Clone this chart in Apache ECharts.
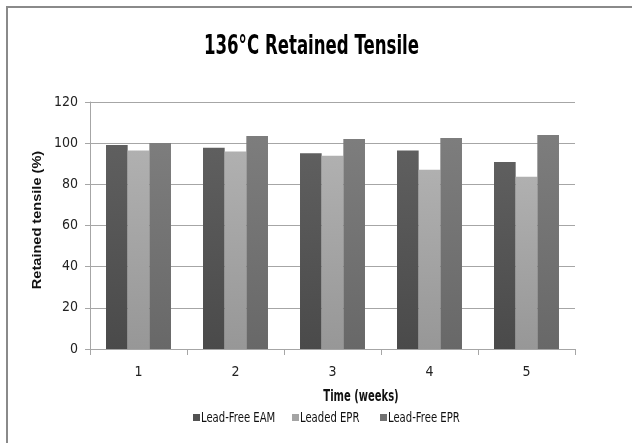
<!DOCTYPE html>
<html><head><meta charset="utf-8">
<script src="https://cdn.jsdelivr.net/npm/echarts@6/dist/echarts.min.js"></script>
<style>html,body{margin:0;padding:0;background:#fff}#c{width:632px;height:443px}</style>
</head><body><div id="c"></div>
<script>
const categories = ['1','2','3','4','5'];
const seriesNames = ['Lead-Free EAM','Leaded EPR','Lead-Free EPR'];
const leadFreeEAM = [99.1, 97.8, 95.1, 96.4, 90.9];
const leadedEPR = [96.4, 96.0, 93.9, 87.1, 83.7];
const leadFreeEPR = [100.1, 103.5, 102.0, 102.5, 104.0];
const yTicks = [0, 20, 40, 60, 80, 100, 120];
const titleText = '136°C Retained Tensile';
const xName = 'Time (weeks)';
const yName = 'Retained tensile (%)';

const NARROW = '"DejaVu Sans Condensed", "DejaVu Sans", sans-serif';
const ARIAL = '"Liberation Sans", Arial, sans-serif';
function grad(top, bottom){
  return new echarts.graphic.LinearGradient(0,0,0,1,[{offset:0,color:top},{offset:1,color:bottom}]);
}
const colors = [grad('#5f5f5f','#4a4a4a'), grad('#b0b0b0','#979797'), grad('#7d7d7d','#686868')];
const legendColors = ['#525252','#a4a4a4','#727272'];
const legendX = [193, 292, 380];
const values = [leadFreeEAM, leadedEPR, leadFreeEPR];

const legendGraphics = [];
seriesNames.forEach((n,i)=>{
  legendGraphics.push({type:'rect', shape:{x:legendX[i], y:414, width:7, height:7}, style:{fill:legendColors[i]}, silent:true});
  legendGraphics.push({type:'text', x:legendX[i]+8, y:418, scaleX:0.8, style:{text:n, fontFamily:NARROW, fontSize:14, fill:'#111', textAlign:'left', textVerticalAlign:'middle'}, silent:true});
});

const chart = echarts.init(document.getElementById('c'), null, {renderer:'canvas'});
chart.setOption({
  animation:false,
  backgroundColor:'#ffffff',
  grid:{left:90, right:57, top:102, bottom:94},
  xAxis:{type:'category', data:categories,
    axisLine:{lineStyle:{color:'#a6a6a6'}},
    axisTick:{show:true, length:6, lineStyle:{color:'#a6a6a6'}},
    axisLabel:{fontFamily:NARROW, fontSize:14, color:'#222', margin:16}},
  yAxis:{type:'value', min:yTicks[0], max:yTicks[yTicks.length-1], interval:20,
    axisLine:{show:true, lineStyle:{color:'#a6a6a6'}},
    axisTick:{show:true, length:5, lineStyle:{color:'#a6a6a6'}},
    axisLabel:{fontFamily:NARROW, fontSize:14, color:'#222', margin:12},
    splitLine:{lineStyle:{color:'#a6a6a6'}}},
  graphic:[
    {type:'rect', shape:{x:7, y:7, width:800, height:600}, style:{fill:'none', stroke:'#8a8a8a', lineWidth:2}, silent:true},
    {type:'text', x:311.5, y:47, scaleX:0.71, style:{text:titleText, fontFamily:NARROW, fontSize:26, fontWeight:'bold', fill:'#000', textAlign:'center', textVerticalAlign:'middle'}, silent:true},
    {type:'text', x:361, y:397, scaleX:0.74, style:{text:xName, fontFamily:NARROW, fontSize:15, fontWeight:'bold', fill:'#111', textAlign:'center', textVerticalAlign:'middle'}, silent:true},
    {type:'text', x:37, y:220, rotation:Math.PI/2, scaleX:1.12, style:{text:yName, fontFamily:ARIAL, fontSize:13, fontWeight:'bold', fill:'#111', textAlign:'center', textVerticalAlign:'middle'}, silent:true}
  ].concat(legendGraphics),
  series: seriesNames.map((n,i)=>({
    name:n, type:'bar', data:values[i], barGap:'0%', barCategoryGap:'33%',
    itemStyle:{color:colors[i]}
  }))
});
</script></body></html>
